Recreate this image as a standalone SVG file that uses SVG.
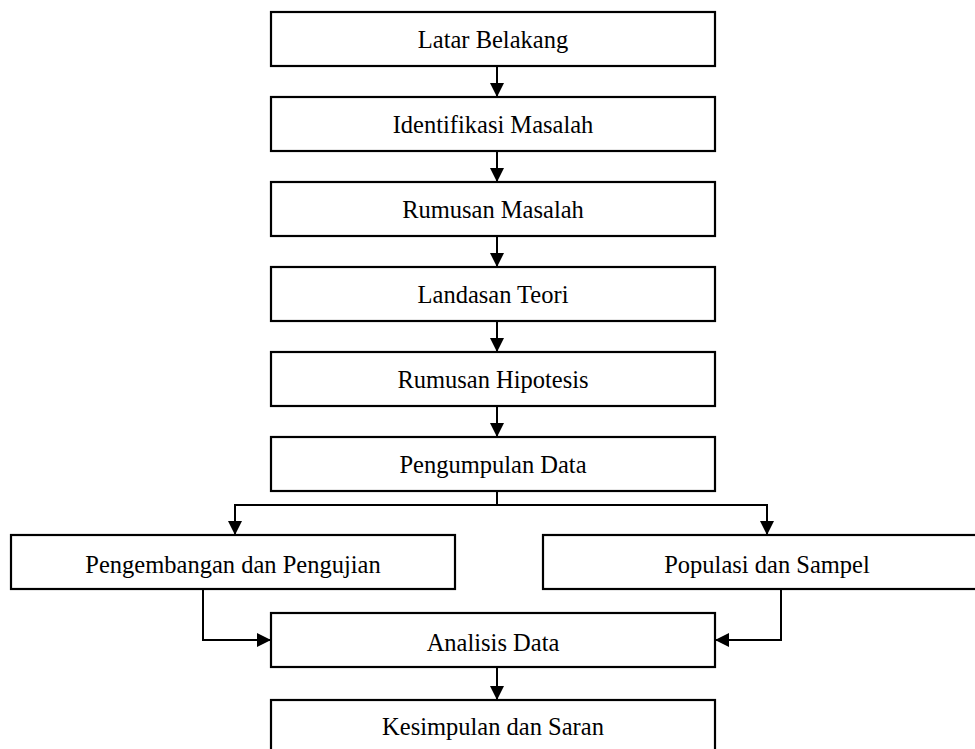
<svg xmlns="http://www.w3.org/2000/svg" width="975" height="749" viewBox="0 0 975 749">
<style>
.box{fill:#fff;stroke:#000;stroke-width:2.2}
.lbl{font-family:"Liberation Serif","Times New Roman",serif;font-size:24.5px;fill:#000;text-anchor:middle}
.ln{fill:none;stroke:#000;stroke-width:2}
</style>
<defs>
<marker id="ah" markerUnits="userSpaceOnUse" markerWidth="14" markerHeight="14" viewBox="0 0 14 14" refX="14" refY="7" orient="auto">
<path d="M0,0 L14,7 L0,14 Z" fill="#000"/>
</marker>
</defs>
<rect width="975" height="749" fill="#fff"/>
<g id="connectors">
<line class="ln" x1="497" y1="66" x2="497" y2="97" marker-end="url(#ah)"/>
<line class="ln" x1="497" y1="151" x2="497" y2="182" marker-end="url(#ah)"/>
<line class="ln" x1="497" y1="236" x2="497" y2="267" marker-end="url(#ah)"/>
<line class="ln" x1="497" y1="321" x2="497" y2="352" marker-end="url(#ah)"/>
<line class="ln" x1="497" y1="406" x2="497" y2="437" marker-end="url(#ah)"/>
<polyline class="ln" points="497,491 497,505"/>
<polyline class="ln" points="497,505 235,505 235,535" marker-end="url(#ah)"/>
<polyline class="ln" points="497,505 767,505 767,535" marker-end="url(#ah)"/>
<polyline class="ln" points="203,589 203,640 271,640" marker-end="url(#ah)"/>
<polyline class="ln" points="781,589 781,640 715,640" marker-end="url(#ah)"/>
<line class="ln" x1="497" y1="667" x2="497" y2="700" marker-end="url(#ah)"/>
</g>
<g id="n1"><rect class="box" x="271" y="12" width="444" height="54"/><text class="lbl" x="493" y="48">Latar Belakang</text></g>
<g id="n2"><rect class="box" x="271" y="97" width="444" height="54"/><text class="lbl" x="493" y="133">Identifikasi Masalah</text></g>
<g id="n3"><rect class="box" x="271" y="182" width="444" height="54"/><text class="lbl" x="493" y="218">Rumusan Masalah</text></g>
<g id="n4"><rect class="box" x="271" y="267" width="444" height="54"/><text class="lbl" x="493" y="303">Landasan Teori</text></g>
<g id="n5"><rect class="box" x="271" y="352" width="444" height="54"/><text class="lbl" x="493" y="388">Rumusan Hipotesis</text></g>
<g id="n6"><rect class="box" x="271" y="437" width="444" height="54"/><text class="lbl" x="493" y="473">Pengumpulan Data</text></g>
<g id="n7"><rect class="box" x="11" y="535" width="444" height="54"/><text class="lbl" x="233" y="573">Pengembangan dan Pengujian</text></g>
<g id="n8"><rect class="box" x="543" y="535" width="448" height="54"/><text class="lbl" x="767" y="573">Populasi dan Sampel</text></g>
<g id="n9"><rect class="box" x="271" y="613" width="444" height="54"/><text class="lbl" x="493" y="651">Analisis Data</text></g>
<g id="n10"><rect class="box" x="271" y="700" width="444" height="60"/><text class="lbl" x="493" y="735">Kesimpulan dan Saran</text></g>
</svg>
